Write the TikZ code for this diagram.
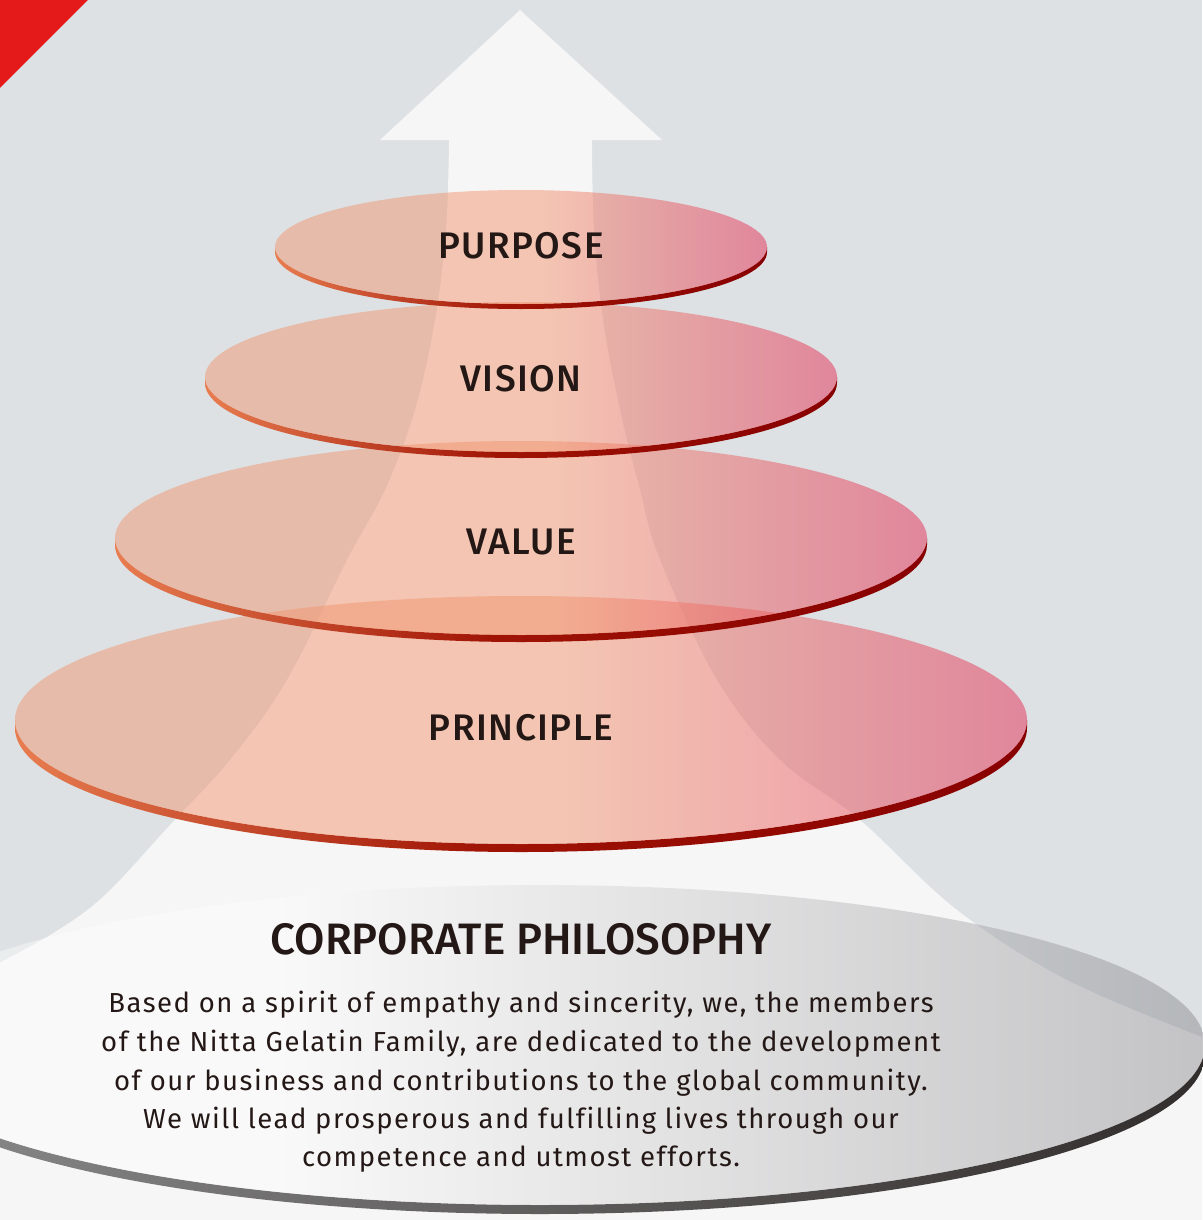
\documentclass[tikz,border=0pt]{standalone}
\usepackage{fontspec}
\setmainfont{Fira Sans}
\newfontfamily\medfont{Fira Sans Medium}[LetterSpace=4]
\newfontfamily\titlefont{Fira Sans Medium}[LetterSpace=0]
\newfontfamily\bodyfont{Fira Sans}[LetterSpace=5.5,Ligatures=NoCommon]
\definecolor{bgc}{RGB}{221,225,228}
\definecolor{arrowc}{RGB}{246,246,246}
\definecolor{txt}{RGB}{35,24,21}
\definecolor{corner}{RGB}{228,26,26}
\definecolor{discL}{RGB}{242,150,112}
\definecolor{discR}{RGB}{228,45,85}
\definecolor{rimL}{RGB}{232,125,80}
\definecolor{rimM}{RGB}{160,20,5}
\definecolor{rimR}{RGB}{135,0,0}
\definecolor{grayL}{RGB}{255,255,255}
\definecolor{grayR}{RGB}{120,120,125}
\definecolor{grimL}{RGB}{140,140,140}
\definecolor{grimR}{RGB}{50,45,45}
\pgfdeclarehorizontalshading{discshade}{100bp}{color(0bp)=(discL); color(25bp)=(discL); color(52bp)=(discL); color(75bp)=(discR); color(100bp)=(discR)}
\pgfdeclarehorizontalshading{rimshade}{100bp}{color(0bp)=(rimL); color(25bp)=(rimL); color(48bp)=(rimM); color(75bp)=(rimR); color(100bp)=(rimR)}
\pgfdeclarehorizontalshading{platshade}{100bp}{color(0bp)=(grayL); color(25bp)=(grayL); color(40bp)=(grayL); color(75bp)=(grayR); color(100bp)=(grayR)}
\pgfdeclarehorizontalshading{platrim}{100bp}{color(0bp)=(grimL); color(25bp)=(grimL); color(75bp)=(grimR); color(100bp)=(grimR)}
\newcommand\mydisc[5]{% cx cy rx ry t
  \shade[shading=rimshade]
    (#1-#3,#2) -- (#1-#3,#2+#5)
    arc[start angle=180,end angle=0,x radius=#3,y radius=#4]
    -- (#1+#3,#2)
    arc[start angle=0,end angle=180,x radius=#3,y radius=#4] -- cycle;
  \shade[shading=discshade,fill opacity=0.5]
    (#1,#2) ellipse[x radius=#3,y radius=#4];
}
\tikzset{
  lab/.style={font=\medfont\fontsize{37}{37}\selectfont,text=txt,inner sep=0pt,anchor=base},
  title/.style={font=\titlefont\fontsize{44}{44}\selectfont,text=txt,inner sep=0pt,anchor=base},
  body/.style={font=\bodyfont\fontsize{27.5}{27.5}\selectfont,text=txt,inner sep=0pt,anchor=base}
}
\begin{document}
\begin{tikzpicture}[x=1pt,y=-1pt]
\useasboundingbox (0,0) rectangle (1202,1220);
\fill[bgc] (0,0) rectangle (1202,1220);
\fill[corner] (0,0) -- (88,0) -- (0,88) -- cycle;
% arrow
\fill[arrowc] (520,10) -- (662,140) -- (592,140)
  -- plot[smooth,tension=0.6] coordinates {(592,141) (594,230) (603,320) (620,410) (640,490) (660,560) (717,680) (780,760) (860,820) (957,910) (1067,980) (1202,1037)}
  -- (1202,1220) -- (0,1220) -- (0,963)
  -- plot[smooth,tension=0.6] coordinates {(1,962) (55,932) (105,895) (170,825) (230,760) (287,680) (347,560) (385,490) (415,410) (435,320) (446,230) (449,141)}
  -- (449,140) -- (380,140) -- cycle;
% platform
\shade[shading=platrim]
  (540-665,1045) -- (540-665,1054)
  arc[start angle=180,end angle=0,x radius=665,y radius=160]
  -- (540+665,1045)
  arc[start angle=0,end angle=180,x radius=665,y radius=160] -- cycle;
\shade[shading=platshade,fill opacity=0.4] (540,1045) ellipse[x radius=665,y radius=160];
% discs
\mydisc{521}{720}{506}{124}{8}
\mydisc{521}{538}{406}{97}{7}
\mydisc{521}{377}{316}{75}{6}
\mydisc{521}{247}{246}{57}{5}
% labels
\node[lab] (purpose) at (521,258) {PURPOSE};
\node[lab] (vision) at (521,391) {VISION};
\node[lab] (value) at (521,554) {VALUE};
\node[lab] (principle) at (521,740) {PRINCIPLE};
\node[title] (title) at (521,954) {CORPORATE PHILOSOPHY};
\node[body] (b1) at (521,1012) {Based on a spirit of empathy and sincerity, we, the members};
\node[body] (b2) at (521,1051) {of the Nitta Gelatin Family, are dedicated to the development};
\node[body] (b3) at (521,1090) {of our business and contributions to the global community.};
\node[body] (b4) at (521,1128) {We will lead prosperous and fulfilling lives through our};
\node[body] (b5) at (521,1166) {competence and utmost efforts.};
\end{tikzpicture}
\end{document}
